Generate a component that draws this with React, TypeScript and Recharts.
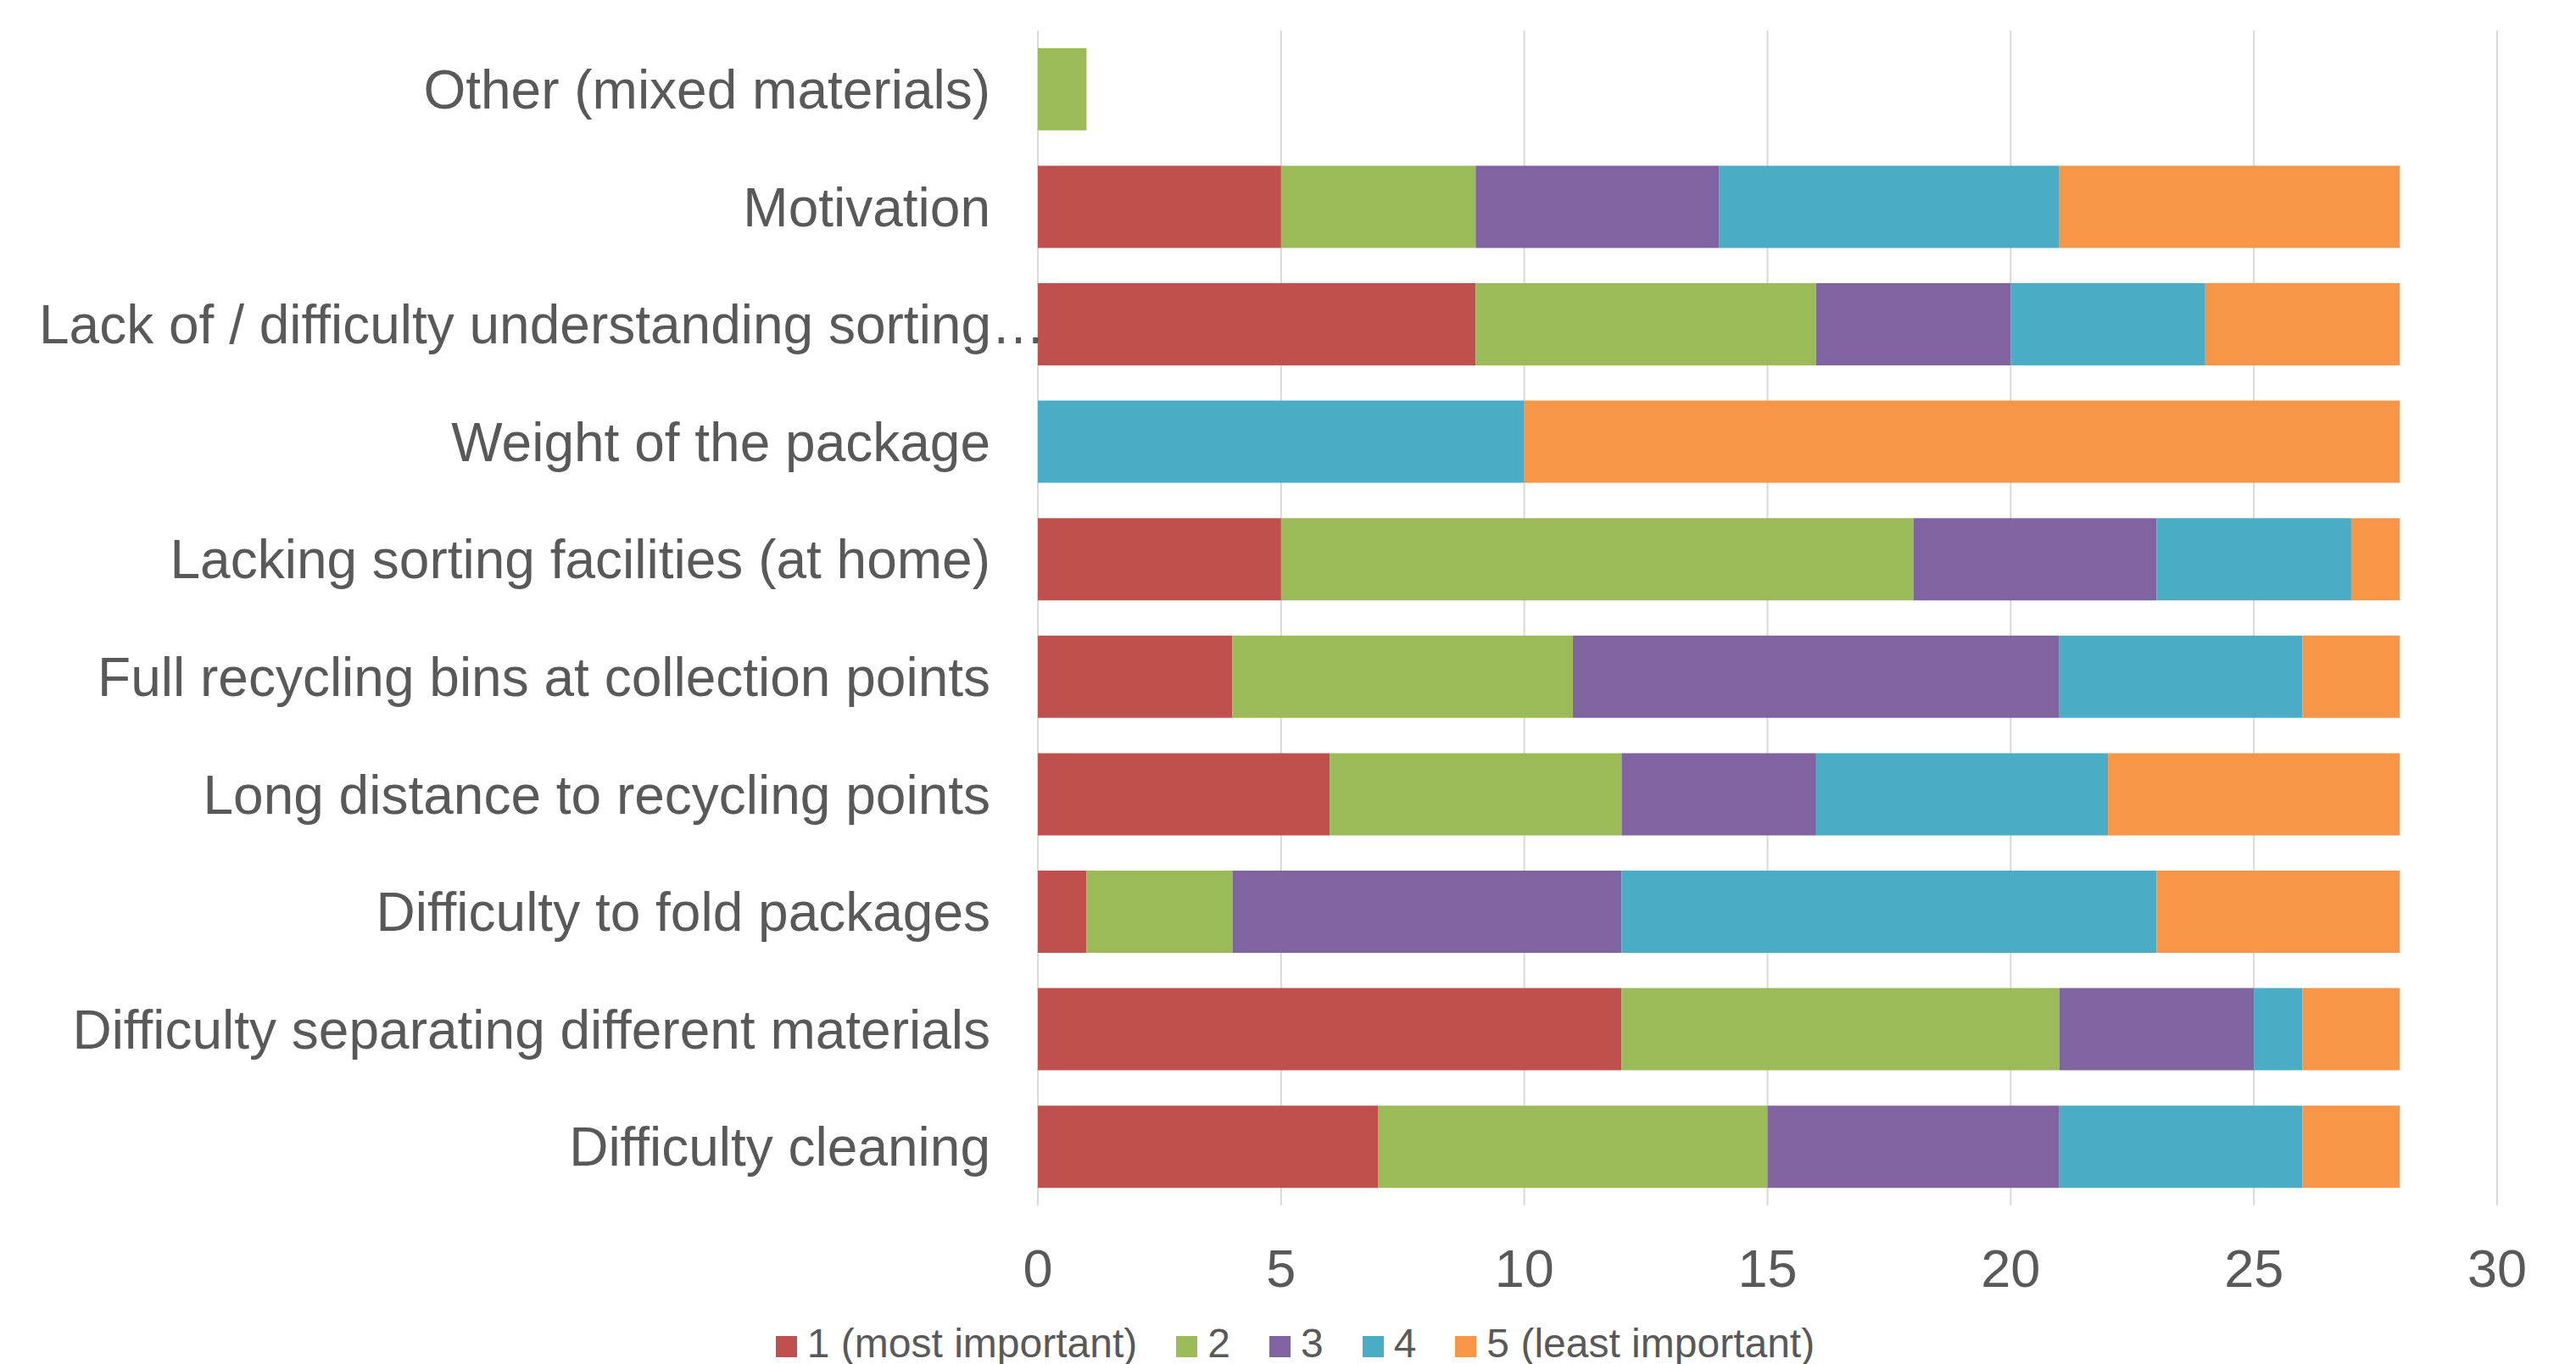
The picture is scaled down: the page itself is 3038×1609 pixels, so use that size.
import React from 'react';
import { BarChart, Bar, XAxis, YAxis, CartesianGrid, Legend } from 'recharts';

const categories = [
  'Other (mixed materials)',
  'Motivation',
  'Lack of / difficulty understanding sorting…',
  'Weight of the package',
  'Lacking sorting facilities (at home)',
  'Full recycling bins at collection points',
  'Long distance to recycling points',
  'Difficulty to fold packages',
  'Difficulty separating different materials',
  'Difficulty cleaning',
];

const rank1 = [0, 5, 9, 0, 5, 4, 6, 1, 12, 7];
const rank2 = [1, 4, 7, 0, 13, 7, 6, 3, 9, 8];
const rank3 = [0, 5, 4, 0, 5, 10, 4, 8, 4, 6];
const rank4 = [0, 7, 4, 10, 4, 5, 6, 11, 1, 5];
const rank5 = [0, 7, 4, 18, 1, 2, 6, 5, 2, 2];

const xTicks = [0, 5, 10, 15, 20, 25, 30];

const series = [
  { key: 'r1', name: '1 (most important)', color: '#C0504D', values: rank1 },
  { key: 'r2', name: '2', color: '#9BBB59', values: rank2 },
  { key: 'r3', name: '3', color: '#8064A2', values: rank3 },
  { key: 'r4', name: '4', color: '#4BACC6', values: rank4 },
  { key: 'r5', name: '5 (least important)', color: '#F79646', values: rank5 },
];

const data = categories.map((name, i) => {
  const row: Record<string, string | number> = { name };
  series.forEach((s) => {
    row[s.key] = s.values[i];
  });
  return row;
});

const textColor = '#595959';
const font = '"Liberation Sans", Arial, sans-serif';

// truncated label is left-aligned in the label area (like Excel does)
const CategoryTick = (props: any) => {
  const { x, y, payload } = props;
  const value: string = payload.value;
  const truncated = value.endsWith('…');
  return (
    <text
      x={truncated ? 46 : x}
      y={y}
      dy="0.355em"
      textAnchor={truncated ? 'start' : 'end'}
      fill={textColor}
      fontSize={64}
      fontFamily={font}
    >
      {value}
    </text>
  );
};

export default function App() {
  return (
    <div style={{ position: 'absolute', left: 0, top: 0, background: '#fff', fontFamily: font }}>
      <BarChart
        width={3038}
        height={1609}
        data={data}
        layout="vertical"
        barCategoryGap="15%"
        margin={{ top: 36, right: 93, left: 0, bottom: 0 }}
      >
        <CartesianGrid horizontal={false} stroke="#D9D9D9" strokeWidth={2} />
        <XAxis
          type="number"
          domain={[0, 30]}
          ticks={xTicks}
          axisLine={false}
          tickLine={false}
          tickSize={0}
          tickMargin={51}
          height={132}
          tick={{ fill: textColor, fontSize: 63, fontFamily: font }}
        />
        <YAxis
          type="category"
          dataKey="name"
          width={1224}
          interval={0}
          axisLine={false}
          tickLine={false}
          tickSize={0}
          tickMargin={56}
          tick={<CategoryTick />}
        />
        <Legend
          verticalAlign="bottom"
          align="center"
          iconType="square"
          iconSize={25}
          wrapperStyle={{ fontSize: 48, fontFamily: font, lineHeight: '55px', paddingLeft: 78, bottom: -3 }}
          formatter={(value) => (
            <span style={{ color: textColor, marginLeft: 8, marginRight: 36 }}>{value}</span>
          )}
        />
        {series.map((s) => (
          <Bar
            key={s.key}
            dataKey={s.key}
            name={s.name}
            stackId="a"
            fill={s.color}
            isAnimationActive={false}
          />
        ))}
      </BarChart>
    </div>
  );
}
